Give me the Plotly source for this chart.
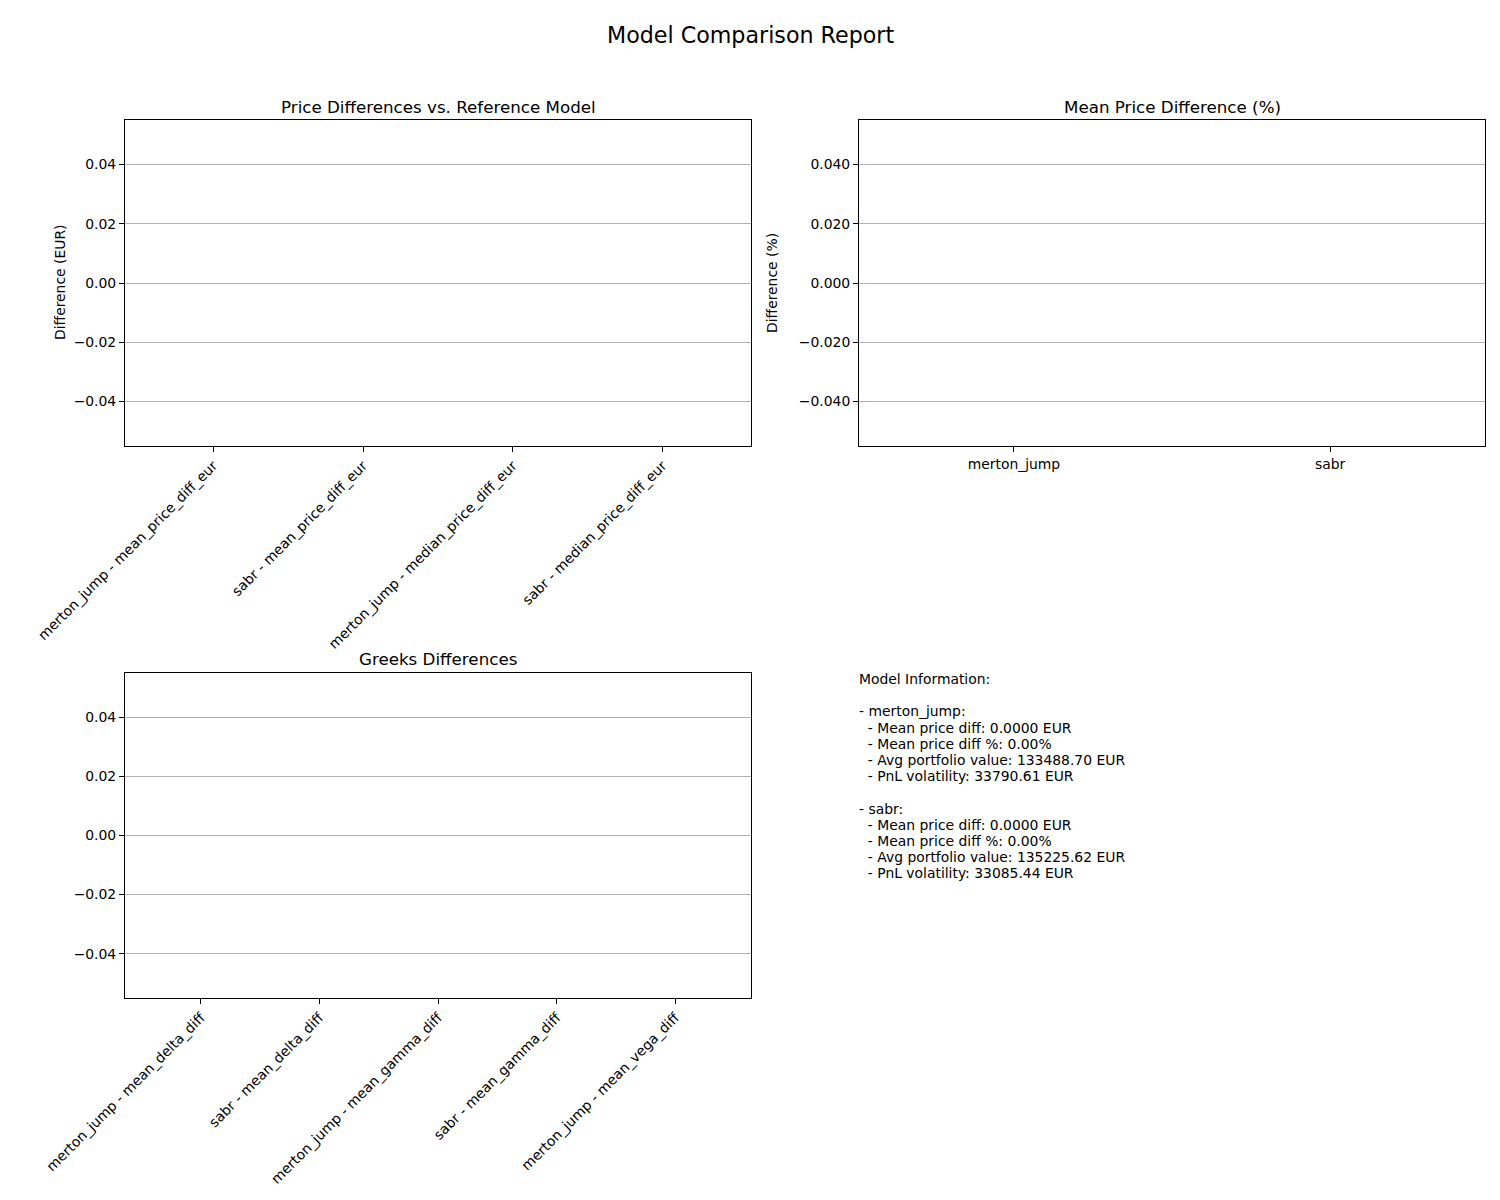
import plotly.graph_objects as go

# ---- data ----
price_categories = [
    "merton_jump - mean_price_diff_eur",
    "sabr - mean_price_diff_eur",
    "merton_jump - median_price_diff_eur",
    "sabr - median_price_diff_eur",
]
price_values = [0.0, 0.0, 0.0, 0.0]

pct_models = ["merton_jump", "sabr"]
pct_values = [0.0, 0.0]

greek_categories = [
    "merton_jump - mean_delta_diff",
    "sabr - mean_delta_diff",
    "merton_jump - mean_gamma_diff",
    "sabr - mean_gamma_diff",
    "merton_jump - mean_vega_diff",
]
greek_values = [0.0, 0.0, 0.0, 0.0, 0.0]

info_lines = [
    "Model Information:",
    "",
    "- merton_jump:",
    "  - Mean price diff: 0.0000 EUR",
    "  - Mean price diff %: 0.00%",
    "  - Avg portfolio value: 133488.70 EUR",
    "  - PnL volatility: 33790.61 EUR",
    "",
    "- sabr:",
    "  - Mean price diff: 0.0000 EUR",
    "  - Mean price diff %: 0.00%",
    "  - Avg portfolio value: 135225.62 EUR",
    "  - PnL volatility: 33085.44 EUR",
]

W, H = 1500, 1200
FONT = "DejaVu Sans"
TICK = 13.9
BAR_COLOR = "#1f77b4"

fig = go.Figure()
fig.add_trace(go.Bar(x=price_categories, y=price_values, marker_color=BAR_COLOR,
                     marker_line_width=0, width=0.8, xaxis="x", yaxis="y", showlegend=False))
fig.add_trace(go.Bar(x=pct_models, y=pct_values, marker_color=BAR_COLOR,
                     marker_line_width=0, width=0.8, xaxis="x2", yaxis="y2", showlegend=False))
fig.add_trace(go.Bar(x=greek_categories, y=greek_values, marker_color=BAR_COLOR,
                     marker_line_width=0, width=0.8, xaxis="x3", yaxis="y3", showlegend=False))

def px_x(v):
    return v / W

def px_y(v):
    return 1 - v / H

left_dom = [px_x(125), px_x(751)]
right_dom = [px_x(859), px_x(1485)]
top_dom = [px_y(446), px_y(120)]
bot_dom = [px_y(998), px_y(673)]

def xaxis(domain, anchor, rng, angle):
    return dict(domain=domain, anchor=anchor, type="category", range=rng, automargin=False,
                showgrid=False, zeroline=False, showline=True, linecolor="black",
                linewidth=1, mirror=True, ticks="outside", ticklen=5, tickcolor="black",
                tickangle=angle, tickfont=dict(family=FONT, size=TICK, color="black"))

def yaxis(domain, anchor, fmt, suffix=""):
    return dict(domain=domain, anchor=anchor, range=[-0.055, 0.055], automargin=False,
                tickvals=[-0.04, -0.02, 0.0, 0.02, 0.04], tickformat=fmt, ticksuffix=suffix,
                showgrid=True, gridcolor="#b0b0b0", gridwidth=1, zeroline=False,
                showline=True, linecolor="black", linewidth=1, mirror=True,
                ticks="outside", ticklen=5, tickcolor="black",
                tickfont=dict(family=FONT, size=TICK, color="black"))

fig.update_layout(
    width=W, height=H,
    margin=dict(l=0, r=0, t=0, b=0, autoexpand=False),
    paper_bgcolor="white", plot_bgcolor="white",
    font=dict(family=FONT, color="black"),
    bargap=0.2,
    xaxis=xaxis(left_dom, "y", [-0.59, 3.59], -45),
    yaxis=yaxis(top_dom, "x", ".2f"),
    xaxis2=xaxis(right_dom, "y2", [-0.49, 1.49], 0),
    yaxis2=yaxis(top_dom, "x2", ".3f", "%"),
    xaxis3=xaxis(left_dom, "y3", [-0.64, 4.64], -45),
    yaxis3=yaxis(bot_dom, "x3", ".2f"),
)

ann = []
# suptitle
ann.append(dict(text="Model Comparison Report", x=0.5, y=px_y(35), xref="paper", yref="paper",
                xanchor="center", yanchor="middle", showarrow=False,
                font=dict(family=FONT, size=22.2, color="black")))
# subplot titles
for txt, cx, cy in [("Price Differences vs. Reference Model", 438, 107),
                    ("Mean Price Difference (%)", 1172, 107),
                    ("Greeks Differences", 438, 659)]:
    ann.append(dict(text=txt, x=px_x(cx), y=px_y(cy), xref="paper", yref="paper",
                    xanchor="center", yanchor="middle", showarrow=False,
                    font=dict(family=FONT, size=16.7, color="black")))
# y-axis titles
for txt, cx, cy in [("Difference (EUR)", 60, 283), ("Difference (%)", 772, 283)]:
    ann.append(dict(text=txt, x=px_x(cx), y=px_y(cy), xref="paper", yref="paper",
                    xanchor="center", yanchor="middle", textangle=-90, showarrow=False,
                    font=dict(family=FONT, size=TICK, color="black")))
# model information text, one annotation per line
for i, line in enumerate(info_lines):
    if not line:
        continue
    ann.append(dict(text=line.replace(" ", "\u00a0"), x=px_x(857), y=px_y(679 + i * 16.2),
                    xref="paper", yref="paper", xanchor="left", yanchor="middle",
                    showarrow=False, align="left",
                    font=dict(family=FONT, size=TICK, color="black")))

fig.update_layout(annotations=ann)
fig.write_html("out.html")
